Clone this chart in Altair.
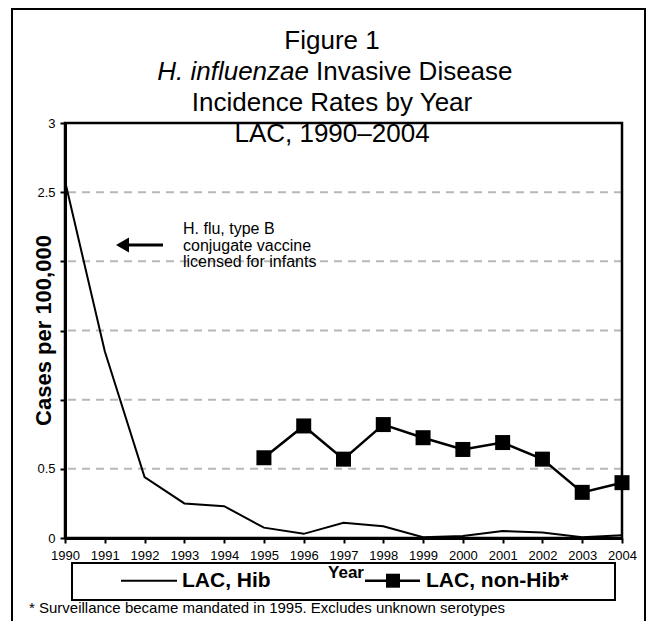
import altair as alt
import pandas as pd

# ---- data ----
years = list(range(1990, 2005))
hib = [2.58, 1.35, 0.44, 0.25, 0.23, 0.075, 0.03, 0.11, 0.085, 0.005, 0.015, 0.05, 0.04, 0.005, 0.02]
nonhib_years = list(range(1995, 2005))
nonhib = [0.58, 0.81, 0.57, 0.82, 0.725, 0.64, 0.69, 0.57, 0.33, 0.40]
grid_values = [0.5, 1.0, 1.5, 2.0, 2.5]
y_ticks = [0, 0.5, 1, 1.5, 2, 2.5, 3]
title_lines = ["Figure 1", "Incidence Rates by Year", "LAC, 1990\u20132004"]
title_italic = "H. influenzae"
title_rest = "Invasive Disease"
annotation_lines = ["H. flu, type B", "conjugate vaccine", "licensed for infants"]
footnote = "* Surveillance became mandated in 1995. Excludes unknown serotypes"
legend_labels = ["LAC, Hib", "LAC, non-Hib*"]

FONT = "Liberation Sans"
W, H = 557, 415

hib_df = pd.DataFrame({"year": years, "rate": hib})
non_df = pd.DataFrame({"year": nonhib_years, "rate": nonhib})
grid_df = pd.DataFrame({"v": grid_values})
one = pd.DataFrame({"a": [0]})

xscale = alt.Scale(domain=[1990, 2004], nice=False, zero=False)
yscale = alt.Scale(domain=[0, 3], nice=False)

xaxis = alt.Axis(values=years, format="d", title=None, grid=False, labelFont=FONT,
                 labelFontSize=13, labelColor="black", tickSize=5, tickWidth=2,
                 tickColor="black", domainWidth=3, domainColor="black",
                 labelPadding=6, labelOverlap=False, labelFlush=False)
yaxis = alt.Axis(values=y_ticks, format="~g", title=None, grid=False, labelFont=FONT,
                 labelFontSize=13, labelColor="black", tickSize=5, tickWidth=2,
                 tickColor="black", domainWidth=3, domainColor="black", labelPadding=5,
                 labelExpr="(datum.value == 0 || datum.value == 0.5 || datum.value == 2.5 || datum.value == 3) ? datum.label : ''")

grid = alt.Chart(grid_df).mark_rule(color="#b8b8b8", strokeWidth=2, strokeDash=[8, 6]).encode(
    y=alt.Y("v:Q", scale=yscale, axis=yaxis)
)

frame = alt.Chart(one).mark_rect(fillOpacity=0, stroke="black", strokeWidth=2.5).encode(
    x=alt.value(0), x2=alt.value(W), y=alt.value(0), y2=alt.value(H)
)

hib_line = alt.Chart(hib_df).mark_line(color="black", strokeWidth=2).encode(
    x=alt.X("year:Q", scale=xscale, axis=xaxis),
    y=alt.Y("rate:Q", scale=yscale, axis=yaxis),
)
non_line = alt.Chart(non_df).mark_line(color="black", strokeWidth=2.5).encode(
    x=alt.X("year:Q", scale=xscale, axis=xaxis),
    y=alt.Y("rate:Q", scale=yscale, axis=yaxis),
)
non_pts = alt.Chart(non_df).mark_point(shape="square", filled=True, size=225, color="black", opacity=1).encode(
    x=alt.X("year:Q", scale=xscale, axis=xaxis),
    y=alt.Y("rate:Q", scale=yscale, axis=yaxis),
)

def txt(text, x, y, size, align="left", bold=False, italic=False, angle=0, baseline="alphabetic"):
    kw = dict(text=text, font=FONT, fontSize=size, align=align, baseline=baseline,
              color="black", fontWeight="bold" if bold else "normal",
              fontStyle="italic" if italic else "normal")
    if angle:
        kw["angle"] = angle
    return alt.Chart(one).mark_text(**kw).encode(x=alt.value(x), y=alt.value(y))

# outer border
border = alt.Chart(one).mark_rect(fillOpacity=0, stroke="black", strokeWidth=2).encode(
    x=alt.value(-53), x2=alt.value(580), y=alt.value(-114), y2=alt.value(560)
)

titles = [
    txt(title_lines[0], 267, -74, 26, align="center"),
    txt(title_italic, 244, -43, 26, align="right", italic=True),
    txt(title_rest, 251, -43, 26, align="left"),
    txt(title_lines[1], 267, -12, 26, align="center"),
    txt(title_lines[2], 267, 19, 26, align="center"),
]

ytitle = txt("Cases per 100,000", -21, 207.5, 22, align="center", bold=True, angle=270, baseline="middle")

annots = [txt(t, 118, 111 + i * 16.5, 16) for i, t in enumerate(annotation_lines)]
arrow_line = alt.Chart(one).mark_rule(color="black", strokeWidth=3).encode(
    x=alt.value(57), x2=alt.value(98), y=alt.value(122)
)
arrow_head = alt.Chart(one).mark_point(shape="triangle-left", filled=True, size=225, color="black", opacity=1).encode(
    x=alt.value(57.5), y=alt.value(122)
)

legend_box = alt.Chart(one).mark_rect(fill="white", stroke="black", strokeWidth=2).encode(
    x=alt.value(7), x2=alt.value(550), y=alt.value(440), y2=alt.value(477)
)
leg_hib_line = alt.Chart(one).mark_rule(color="black", strokeWidth=2).encode(
    x=alt.value(56), x2=alt.value(112), y=alt.value(457.7)
)
leg_non_line = alt.Chart(one).mark_rule(color="black", strokeWidth=2.5).encode(
    x=alt.value(300), x2=alt.value(355), y=alt.value(457.7)
)
leg_non_pt = alt.Chart(one).mark_point(shape="square", filled=True, size=196, color="black", opacity=1).encode(
    x=alt.value(328), y=alt.value(457.7)
)
leg_texts = [
    txt(legend_labels[0], 117, 464, 21, bold=True),
    txt(legend_labels[1], 361, 464, 21, bold=True),
]
xtitle = txt("Year", 281, 455, 17, align="center", bold=True)
foot = txt(footnote, -36, 490, 15)

chart = alt.layer(
    border, grid, hib_line, non_line, non_pts, frame,
    *titles, ytitle, *annots, arrow_line, arrow_head,
    legend_box, leg_hib_line, leg_non_line, leg_non_pt, *leg_texts, xtitle, foot,
).properties(
    width=W, height=H,
    autosize=alt.AutoSizeParams(type="none"),
    padding={"left": 57, "top": 115, "right": 25, "bottom": 83},
).configure_view(stroke=None).configure(background="white")

chart.save("out.html", embed_options={"renderer": "svg", "actions": False})
